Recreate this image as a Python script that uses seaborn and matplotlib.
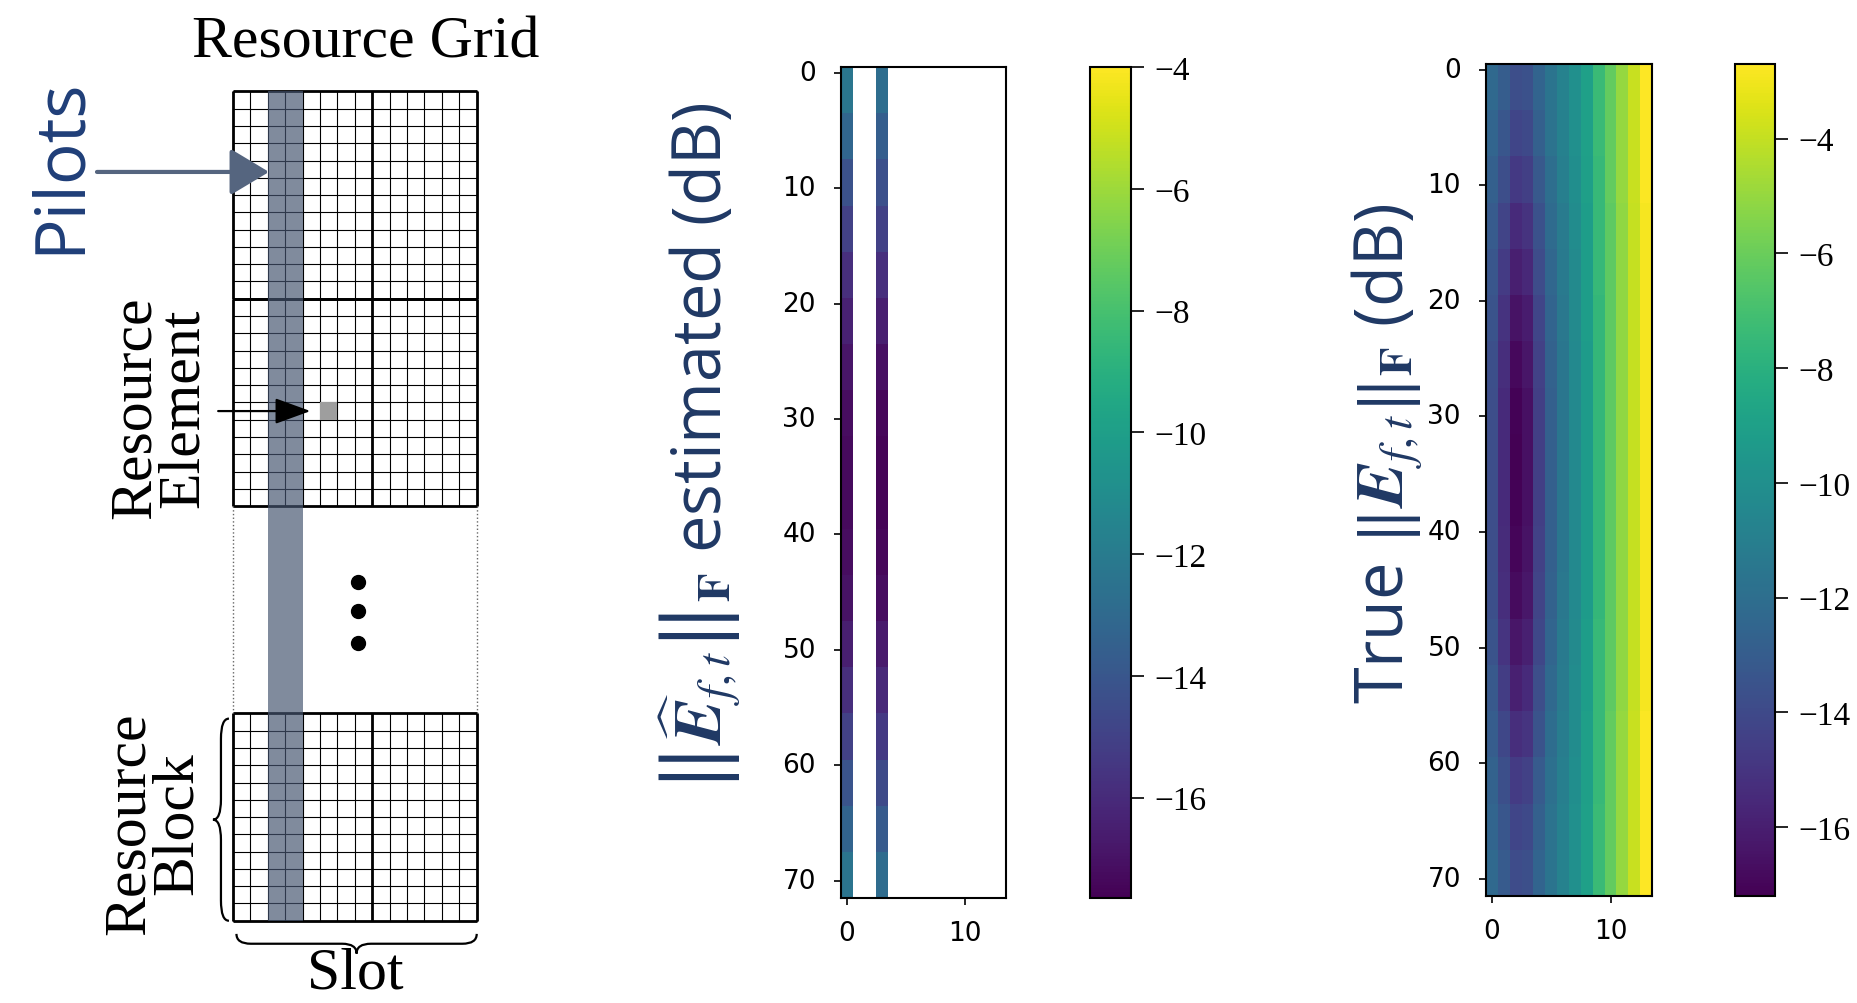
import numpy as np
import matplotlib
matplotlib.use("Agg")
import matplotlib.pyplot as plt
from matplotlib.path import Path
from matplotlib.patches import PathPatch, Rectangle
import seaborn as sns

# ------------------------------------------------------------------ data
n_rows = 72            # subcarriers (rows of the heatmaps)
n_cols = 14            # OFDM symbols (columns of the heatmaps)
rows_per_block = 4     # values below are read per block of 4 rows
x_ticks = [0, 10]
y_ticks = [0, 10, 20, 30, 40, 50, 60, 70]
cbar_ticks = [-4, -6, -8, -10, -12, -14, -16]

# estimated error norm (dB): only the pilot symbols carry a value
pilot_cols = [0, 3]
est_col0 = [-12.3, -13.2, -14.2, -15.0, -15.8, -16.4, -16.9, -17.2, -17.3,
            -17.3, -17.2, -17.0, -16.5, -15.8, -15.0, -14.1, -13.3, -12.4]
est_col3 = [-12.8, -13.6, -14.3, -15.0, -15.8, -16.5, -17.1, -17.4, -17.5,
            -17.5, -17.4, -17.2, -16.7, -16.1, -15.4, -14.6, -13.8, -12.9]
est_vmin, est_vmax = -17.65, -4.0

# true error norm (dB), one list per OFDM symbol (column), 18 row blocks each
true_col = [
    [-12.3, -12.5, -12.8, -13.1, -13.3, -13.5, -13.7, -13.8, -13.8, -13.8, -13.8, -13.7, -13.5, -13.2, -13.0, -12.7, -12.5, -12.3],
    [-13.0, -13.3, -13.8, -14.3, -14.7, -15.1, -15.3, -15.5, -15.5, -15.5, -15.4, -15.3, -15.0, -14.6, -14.1, -13.7, -13.3, -13.1],
    [-13.8, -14.2, -14.8, -15.5, -16.0, -16.5, -16.9, -17.1, -17.2, -17.1, -17.0, -16.8, -16.4, -15.9, -15.3, -14.7, -14.2, -13.9],
    [-13.6, -14.0, -14.5, -15.1, -15.6, -16.1, -16.4, -16.6, -16.6, -16.6, -16.5, -16.3, -15.9, -15.5, -15.0, -14.4, -14.0, -13.7],
    [-12.6, -12.8, -13.2, -13.6, -13.9, -14.2, -14.4, -14.5, -14.5, -14.5, -14.4, -14.3, -14.1, -13.8, -13.5, -13.1, -12.8, -12.6],
    [-11.6, -11.7, -12.0, -12.2, -12.4, -12.6, -12.7, -12.8, -12.8, -12.8, -12.8, -12.7, -12.5, -12.3, -12.1, -11.9, -11.7, -11.6],
    [-10.8, -10.9, -11.0, -11.2, -11.3, -11.4, -11.5, -11.5, -11.5, -11.5, -11.5, -11.4, -11.3, -11.2, -11.1, -11.0, -10.9, -10.8],
    [-10.0, -10.0, -10.1, -10.2, -10.3, -10.3, -10.4, -10.4, -10.4, -10.4, -10.4, -10.4, -10.3, -10.2, -10.2, -10.1, -10.0, -10.0],
    [-9.0, -9.0, -9.1, -9.2, -9.2, -9.2, -9.3, -9.3, -9.3, -9.3, -9.3, -9.3, -9.2, -9.2, -9.1, -9.1, -9.0, -9.0],
    [-7.4, -7.4, -7.5, -7.5, -7.5, -7.6, -7.6, -7.6, -7.6, -7.6, -7.6, -7.6, -7.5, -7.5, -7.5, -7.5, -7.4, -7.4],
    [-6.2, -6.2, -6.2, -6.3, -6.3, -6.3, -6.3, -6.3, -6.3, -6.3, -6.3, -6.3, -6.3, -6.3, -6.2, -6.2, -6.2, -6.2],
    [-5.0, -5.0, -5.0, -5.1, -5.1, -5.1, -5.1, -5.1, -5.1, -5.1, -5.1, -5.1, -5.1, -5.1, -5.0, -5.0, -5.0, -5.0],
    [-3.9, -3.9, -3.9, -4.0, -4.0, -4.0, -4.0, -4.0, -4.0, -4.0, -4.0, -4.0, -4.0, -4.0, -3.9, -3.9, -3.9, -3.9],
    [-2.7, -2.8, -2.8, -2.9, -2.9, -2.9, -2.9, -2.9, -2.9, -2.9, -2.9, -2.9, -2.9, -2.9, -2.8, -2.8, -2.8, -2.7],
]
true_vmin, true_vmax = -17.2, -2.7

# resource-grid schematic (in grid cells)
grid_symbols = 14
subcarriers_per_rb = 12
drawn_blocks = [0, 1, 3]          # block 2 is the "..." gap
pilot_symbols = [2, 3]
thick_symbol_line = 8
re_cell = (5, 18)                 # (symbol, subcarrier) of highlighted RE

# ------------------------------------------------------------------ matrices
est = np.full((n_rows, n_cols), np.nan)
est[:, pilot_cols[0]] = np.repeat(est_col0, rows_per_block)
est[:, pilot_cols[1]] = np.repeat(est_col3, rows_per_block)
true = np.repeat(np.array(true_col).T, rows_per_block, axis=0)

# ------------------------------------------------------------------ style
plt.rcParams["font.family"] = ["DejaVu Sans"]
plt.rcParams["mathtext.fontset"] = "stix"
NAVY = "#1F3864"
W, H = 1858, 1004
fig = plt.figure(figsize=(W / 100, H / 100), dpi=100)
fig.patch.set_facecolor("white")


def fx(px):
    return px / W


def fy(px):
    return 1 - px / H


def heat(ax_box, cax_box, data, vmin, vmax, label, label_xy):
    ax = fig.add_axes(ax_box)
    cax = fig.add_axes(cax_box)
    sns.heatmap(data, ax=ax, cbar_ax=cax, cmap="viridis", vmin=vmin, vmax=vmax,
                cbar_kws={"ticks": cbar_ticks})
    ax.set_facecolor("white")
    ax.set_xticks(np.array(x_ticks) + 0.5)
    ax.set_xticklabels([str(t) for t in x_ticks], rotation=0)
    ax.set_yticks(np.array(y_ticks) + 0.5)
    ax.set_yticklabels([str(t) for t in y_ticks], rotation=0)
    ax.tick_params(axis="both", labelsize=19, length=5, width=1.2, color="black")
    ax.tick_params(axis="y", pad=13)
    ax.tick_params(axis="x", pad=11)
    for s in ax.spines.values():
        s.set_visible(True)
        s.set_linewidth(1.5)
        s.set_color("black")
    cbar = ax.collections[0].colorbar
    cbar.outline.set_visible(True)
    cbar.outline.set_linewidth(1.5)
    cbar.outline.set_edgecolor("black")
    cax.set_yticks(cbar_ticks)
    cax.set_yticklabels(["\u2212" + str(abs(t)) for t in cbar_ticks],
                        fontfamily="Liberation Serif", fontsize=24)
    cax.tick_params(length=9, width=1.2, pad=8)
    ax.set_ylabel(label, fontsize=48, color=NAVY, fontfamily="Open Sans")
    ax.yaxis.set_label_coords(*label_xy)
    return ax


# middle: estimated
heat([fx(841), fy(899), fx(1006 - 841), (899 - 68) / H],
     [fx(1090), fy(899), fx(41), (899 - 68) / H],
     est, est_vmin, est_vmax,
     r"$\left\|\widehat{\mathbfit{E}}_{f,t}\right\|_{\mathbf{F}}$ estimated (dB)",
     (-0.59, 0.543))

# right: true
heat([fx(1486), fy(897), fx(1652 - 1486), (897 - 65) / H],
     [fx(1735), fy(897), fx(40), (897 - 65) / H],
     true, true_vmin, true_vmax,
     r"True $\left\|\mathbfit{E}_{f,t}\right\|_{\mathbf{F}}$ (dB)",
     (-0.37, 0.533))

# ------------------------------------------------------------------ schematic
axL = fig.add_axes([0, 0, fx(600), 1])
axL.set_xlim(-13.38, 21.08)
axL.set_ylim(52.76, -5.35)
axL.axis("off")

rb = subcarriers_per_rb
for b in drawn_blocks:
    y0, y1 = b * rb, (b + 1) * rb
    axL.hlines(np.arange(y0, y1 + 1), 0, grid_symbols, colors="black", lw=0.8, zorder=2)
    axL.vlines(np.arange(grid_symbols + 1), y0, y1, colors="black", lw=0.8, zorder=2)
    axL.hlines([y0, y1], 0, grid_symbols, colors="black", lw=2.0, zorder=2)
    axL.vlines([0, grid_symbols, thick_symbol_line], y0, y1, colors="black", lw=2.0, zorder=2)

gap0, gap1 = 2 * rb, 3 * rb
axL.vlines([0, grid_symbols], gap0, gap1, colors="#666666", lw=1.0, linestyles=":", zorder=2)
axL.plot([7.2] * 3, [28.4, 30.1, 31.9], "o", ms=10, color="black", zorder=3)

total_rows = 4 * rb
axL.add_patch(Rectangle((pilot_symbols[0], 0), len(pilot_symbols), total_rows,
                        facecolor="#44546f", alpha=0.68, lw=0, zorder=3))
axL.add_patch(Rectangle(re_cell, 1, 1, facecolor="#9e9e9e", lw=0, zorder=4))

# arrows
axL.annotate("", xy=(2.07, 4.66), xytext=(-7.81, 4.66),
             arrowprops=dict(arrowstyle="-|>,head_length=0.6,head_width=0.36",
                             mutation_scale=40, lw=3.0, color="#55657f",
                             shrinkA=0, shrinkB=0), zorder=5)
axL.annotate("", xy=(4.45, re_cell[1] + 0.5), xytext=(-0.85, re_cell[1] + 0.5),
             arrowprops=dict(arrowstyle="-|>,head_length=0.55,head_width=0.2",
                             mutation_scale=40, lw=1.6, color="black",
                             shrinkA=0, shrinkB=0), zorder=5)


def brace(ax, p0, p1, d, frac=0.1, lw=1.6):
    p0, p1, d = np.array(p0, float), np.array(p1, float), np.array(d, float)
    L = p1 - p0

    def P(u, v):
        return p0 + u * L + v * d

    a = frac
    verts = [P(0, 0), P(0, 0.5), P(a, 0.5), P(0.5 - a, 0.5), P(0.5, 0.5), P(0.5, 1),
             P(0.5, 0.5), P(0.5 + a, 0.5), P(1 - a, 0.5), P(1, 0.5), P(1, 0)]
    codes = [Path.MOVETO, Path.CURVE3, Path.CURVE3, Path.LINETO, Path.CURVE3, Path.CURVE3,
             Path.CURVE3, Path.CURVE3, Path.LINETO, Path.CURVE3, Path.CURVE3]
    ax.add_patch(PathPatch(Path(verts, codes), fill=False, lw=lw, color="black", zorder=4))


brace(axL, (-0.23, 36.3), (-0.23, 48.0), (-0.92, 0))
brace(axL, (0.2, 48.76), (14.0, 48.76), (0, 1.14), frac=0.06)

serif = "Liberation Serif"
axL.text(7.64, -2.81, "Resource Grid", fontsize=43, family=serif, ha="center", va="center")
axL.text(-4.19, 18.26, "Resource\nElement", fontsize=43, family=serif, rotation=90,
         ha="center", va="center", multialignment="center", linespacing=0.85)
axL.text(-4.54, 42.34, "Resource\nBlock", fontsize=43, family=serif, rotation=90,
         ha="center", va="center", multialignment="center", linespacing=0.85)
axL.text(7.0, 51.05, "Slot", fontsize=43, family=serif, ha="center", va="center")
axL.text(-9.88, 4.26, "Pilots", fontsize=50, family="Open Sans", color="#1f3e78",
         rotation=90, ha="center", va="center")

fig.savefig("out.png", dpi=100, facecolor="white")
